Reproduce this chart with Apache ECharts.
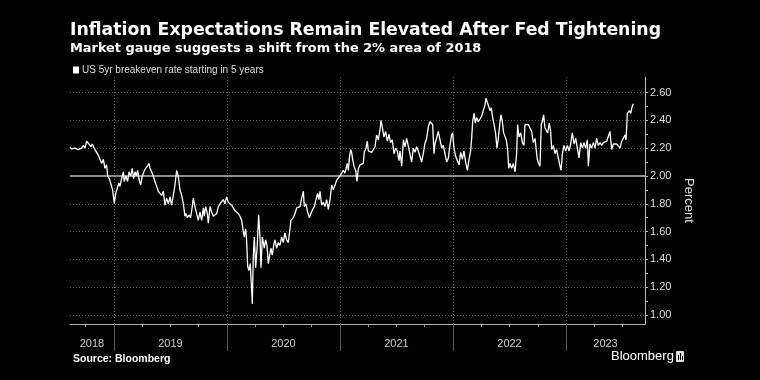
<!DOCTYPE html>
<html>
<head>
<meta charset="utf-8">
<script src="https://cdn.jsdelivr.net/npm/echarts@6/dist/echarts.min.js"></script>
<style>
html,body{margin:0;padding:0;background:#000;}
#chart{width:760px;height:380px;}
</style>
</head>
<body>
<div id="chart"></div>
<script>
// Decimal-year dates
const dates = [
2018.611,2018.625,2018.640,2018.655,2018.670,2018.684,2018.699,2018.714,2018.729,2018.743,
2018.758,2018.767,2018.779,2018.796,2018.808,2018.826,2018.838,2018.850,2018.861,2018.876,
2018.891,2018.906,2018.920,2018.935,2018.944,2018.959,2018.973,2018.988,2019.003,2019.015,
2019.029,2019.044,2019.053,2019.068,2019.083,2019.091,2019.106,2019.121,2019.133,2019.148,
2019.162,2019.174,2019.186,2019.198,2019.209,2019.221,2019.236,2019.251,2019.265,2019.280,
2019.295,2019.310,2019.319,2019.333,2019.348,2019.363,2019.378,2019.392,2019.407,2019.422,
2019.437,2019.451,2019.466,2019.481,2019.496,2019.510,2019.525,2019.540,2019.555,2019.569,
2019.584,2019.599,2019.614,2019.628,2019.637,2019.649,2019.664,2019.678,2019.693,2019.702,
2019.717,2019.732,2019.746,2019.761,2019.776,2019.791,2019.799,2019.811,2019.826,2019.835,
2019.850,2019.864,2019.879,2019.894,2019.909,2019.923,2019.938,2019.953,2019.968,2019.982,
2019.997,2020.012,2020.027,2020.041,2020.056,2020.071,2020.086,2020.100,2020.115,2020.130,
2020.145,2020.153,2020.165,2020.174,2020.183,2020.195,2020.206,2020.215,2020.224,2020.233,
2020.242,2020.254,2020.268,2020.280,2020.292,2020.301,2020.313,2020.322,2020.330,2020.342,
2020.354,2020.366,2020.378,2020.389,2020.401,2020.413,2020.425,2020.439,2020.454,2020.469,
2020.484,2020.498,2020.513,2020.528,2020.543,2020.558,2020.566,2020.587,2020.602,2020.617,
2020.631,2020.646,2020.661,2020.676,2020.684,2020.699,2020.714,2020.729,2020.743,2020.758,
2020.773,2020.788,2020.802,2020.814,2020.823,2020.838,2020.853,2020.867,2020.882,2020.897,
2020.912,2020.926,2020.941,2020.956,2020.971,2020.985,2021.000,2021.015,2021.029,2021.044,
2021.053,2021.065,2021.074,2021.083,2021.094,2021.103,2021.112,2021.124,2021.139,2021.150,
2021.162,2021.177,2021.192,2021.206,2021.215,2021.230,2021.242,2021.251,2021.265,2021.280,
2021.295,2021.310,2021.324,2021.339,2021.354,2021.363,2021.375,2021.389,2021.404,2021.419,
2021.434,2021.448,2021.463,2021.478,2021.493,2021.507,2021.522,2021.531,2021.546,2021.561,
2021.575,2021.590,2021.605,2021.619,2021.634,2021.649,2021.664,2021.678,2021.693,2021.708,
2021.723,2021.737,2021.752,2021.767,2021.782,2021.796,2021.811,2021.820,2021.832,2021.841,
2021.855,2021.870,2021.885,2021.900,2021.914,2021.929,2021.944,2021.959,2021.973,2021.988,
2021.997,2022.009,2022.024,2022.038,2022.053,2022.068,2022.083,2022.097,2022.112,2022.127,
2022.142,2022.156,2022.165,2022.174,2022.186,2022.198,2022.209,2022.224,2022.239,2022.254,
2022.269,2022.283,2022.292,2022.304,2022.316,2022.327,2022.339,2022.351,2022.366,2022.378,
2022.389,2022.401,2022.416,2022.425,2022.437,2022.448,2022.460,2022.472,2022.484,2022.493,
2022.504,2022.519,2022.534,2022.549,2022.563,2022.572,2022.584,2022.599,2022.614,2022.628,
2022.637,2022.652,2022.667,2022.681,2022.696,2022.711,2022.726,2022.735,2022.746,2022.758,
2022.770,2022.781,2022.790,2022.802,2022.814,2022.829,2022.838,2022.852,2022.864,2022.873,
2022.888,2022.903,2022.917,2022.932,2022.947,2022.956,2022.968,2022.982,2022.997,2023.012,
2023.027,2023.041,2023.056,2023.071,2023.086,2023.100,2023.115,2023.130,2023.145,2023.159,
2023.174,2023.189,2023.198,2023.212,2023.227,2023.242,2023.257,2023.271,2023.286,2023.301,
2023.316,2023.330,2023.345,2023.360,2023.375,2023.389,2023.404,2023.419,2023.434,2023.448,
2023.463,2023.478,2023.493,2023.507,2023.522,2023.531,2023.543,2023.552,2023.561,2023.573,
2023.582,2023.591,2023.597
];

// US 5yr breakeven rate starting in 5 years (percent)
const values = [
2.21,2.195,2.19,2.20,2.19,2.19,2.19,2.20,2.22,2.20,
2.25,2.26,2.23,2.21,2.23,2.20,2.18,2.19,2.15,2.14,
2.09,2.12,2.055,2.08,2.00,1.98,1.97,1.90,1.80,1.875,
1.91,1.95,1.925,1.98,2.03,1.96,2.00,1.96,2.03,2.00,
2.055,1.98,2.03,2.00,2.04,1.98,1.935,2.00,2.03,2.055,
2.07,2.09,2.055,2.03,2.00,1.96,1.925,1.89,1.90,1.86,
1.89,1.79,1.84,1.80,1.85,1.79,1.86,1.935,2.04,2.00,
1.90,1.86,1.80,1.71,1.73,1.70,1.72,1.70,1.78,1.84,
1.78,1.79,1.68,1.74,1.68,1.77,1.71,1.78,1.73,1.66,
1.78,1.74,1.71,1.70,1.73,1.78,1.80,1.81,1.83,1.80,
1.85,1.81,1.81,1.79,1.80,1.75,1.76,1.73,1.71,1.68,
1.60,1.56,1.62,1.54,1.35,1.32,1.37,1.23,1.08,1.42,
1.56,1.34,1.50,1.72,1.56,1.34,1.56,1.52,1.48,1.54,
1.50,1.37,1.43,1.48,1.43,1.50,1.54,1.48,1.52,1.50,
1.56,1.52,1.59,1.54,1.52,1.52,1.68,1.70,1.73,1.77,
1.76,1.78,1.84,1.89,1.78,1.80,1.74,1.70,1.70,1.76,
1.78,1.83,1.875,1.83,1.89,1.79,1.81,1.78,1.83,1.76,
1.83,1.935,1.90,1.935,1.97,1.96,2.00,2.005,2.04,2.02,
2.05,2.09,2.04,2.13,2.19,2.17,2.12,2.07,2.04,1.96,
2.05,2.08,2.07,2.09,2.17,2.20,2.25,2.18,2.19,2.17,
2.18,2.21,2.295,2.26,2.33,2.40,2.35,2.28,2.32,2.25,
2.30,2.24,2.26,2.16,2.20,2.18,2.11,2.18,2.07,2.26,
2.21,2.27,2.28,2.16,2.10,2.20,2.17,2.21,2.18,2.19,
2.10,2.16,2.235,2.27,2.355,2.39,2.40,2.37,2.16,2.235,
2.27,2.32,2.26,2.20,2.22,2.16,2.10,2.13,2.22,2.295,
2.31,2.20,2.14,2.13,2.08,2.17,2.12,2.18,2.10,2.04,
2.12,2.18,2.27,2.39,2.45,2.38,2.42,2.39,2.40,2.43,
2.475,2.51,2.56,2.55,2.50,2.47,2.49,2.42,2.36,2.30,
2.20,2.27,2.39,2.44,2.39,2.31,2.32,2.26,2.18,2.055,
2.09,2.055,2.09,2.03,2.16,2.37,2.28,2.31,2.24,2.22,
2.37,2.38,2.37,2.345,2.32,2.24,2.27,2.20,2.12,2.09,
2.07,2.37,2.39,2.44,2.345,2.345,2.31,2.38,2.32,2.19,
2.22,2.16,2.19,2.13,2.07,2.04,2.16,2.22,2.18,2.22,
2.18,2.23,2.31,2.23,2.27,2.20,2.13,2.24,2.20,2.24,
2.20,2.26,2.07,2.23,2.20,2.24,2.20,2.27,2.22,2.24,
2.22,2.24,2.23,2.25,2.26,2.32,2.19,2.23,2.24,2.23,
2.24,2.20,2.25,2.27,2.295,2.26,2.45,2.44,2.47,2.45,
2.49,2.51,2.52
];

const seriesName = 'US 5yr breakeven rate starting in 5 years';
const yearLabels = ['2018','2019','2020','2021','2022','2023'];
const yearBoundaries = [2019, 2020, 2021, 2022, 2023];
const quarterTicks = [2018.75,2019.25,2019.5,2019.75,2020.25,2020.5,2020.75,2021.25,2021.5,2021.75,2022.25,2022.5,2022.75,2023.25,2023.5];
const yLabelValues = [1.0,1.2,1.4,1.6,1.8,2.0,2.2,2.4,2.6];
const yTickValues = [1.0,1.1,1.2,1.3,1.4,1.5,1.6,1.7,1.8,1.9,2.0,2.1,2.2,2.3,2.4,2.5,2.6];
const referenceLevel = 2.0;

const xMin = 2018.611, xMax = 2023.699;
const yMin = 0.935, yMax = 2.712;

const yearLabelPos = yearLabels.map(y => {
  const s = Math.max(+y, xMin), e = Math.min(+y + 1, xMax);
  return (s + e) / 2;
});

const data = dates.map((d, i) => [d, values[i]]);

const dottedGrid = { color: '#5a5a5a', type: [1, 2], width: 1 };
const markData = [];
yLabelValues.forEach(v => {
  if (v !== referenceLevel) markData.push({ yAxis: v, lineStyle: dottedGrid });
});
yearBoundaries.forEach(v => markData.push({ xAxis: v, lineStyle: dottedGrid }));
markData.push({ yAxis: referenceLevel, lineStyle: { color: '#8c8c8c', type: 'solid', width: 2 } });

const chart = echarts.init(document.getElementById('chart'), null, { renderer: 'canvas' });
chart.setOption({
  backgroundColor: '#000',
  animation: false,
  title: {
    text: 'Inflation Expectations Remain Elevated After Fed Tightening',
    subtext: 'Market gauge suggests a shift from the 2% area of 2018',
    left: 65, top: 17, itemGap: 3,
    textStyle: { color: '#fff', fontSize: 17.3, fontWeight: 'bold', fontFamily: 'DejaVu Sans' },
    subtextStyle: { color: '#fff', fontSize: 12.9, fontWeight: 'bold', fontFamily: 'DejaVu Sans' }
  },
  legend: {
    data: [seriesName],
    left: 73, top: 65, padding: 0,
    icon: 'rect', itemWidth: 6, itemHeight: 7, itemGap: 4,
    textStyle: { color: '#ddd', fontSize: 10, fontFamily: '"Liberation Sans Narrow", "Liberation Sans", sans-serif', padding: [0,0,0,-2] }
  },
  grid: { left: 70, right: 115, top: 77, bottom: 56 },
  xAxis: [
    {
      type: 'value', min: xMin, max: xMax,
      axisLine: { show: true, lineStyle: { color: '#aaa', width: 1 } },
      axisTick: { show: true, customValues: quarterTicks, length: 3, lineStyle: { color: '#aaa' } },
      axisLabel: { show: false },
      splitLine: { show: false }
    },
    {
      type: 'value', min: xMin, max: xMax, position: 'bottom',
      axisLine: { show: false },
      axisTick: { show: true, customValues: yearBoundaries, length: 27, lineStyle: { color: '#555' } },
      axisLabel: {
        show: true, customValues: yearLabelPos, margin: 14,
        color: '#ccc', fontSize: 11, fontFamily: 'Liberation Sans',
        formatter: v => String(Math.floor(v))
      },
      splitLine: { show: false }
    }
  ],
  yAxis: {
    type: 'value', position: 'right', min: yMin, max: yMax,
    name: 'Percent', nameLocation: 'middle', nameRotate: -90, nameGap: 30,
    nameTextStyle: { color: '#ddd', fontSize: 13, fontFamily: 'Liberation Sans' },
    axisLine: { show: true, lineStyle: { color: '#bbb', width: 1 } },
    axisTick: { show: true, customValues: yTickValues, length: 3, lineStyle: { color: '#bbb' } },
    axisLabel: {
      customValues: yLabelValues, margin: 5,
      color: '#ddd', fontSize: 11, fontFamily: 'Liberation Sans',
      formatter: v => v.toFixed(2)
    },
    splitLine: { show: false }
  },
  series: [{
    name: seriesName,
    type: 'line',
    data: data,
    showSymbol: false,
    symbol: 'none',
    lineStyle: { color: '#fff', width: 1.3 },
    itemStyle: { color: '#fff' },
    z: 3,
    markLine: {
      silent: true, symbol: 'none', label: { show: false },
      animation: false, z: 1,
      data: markData
    }
  }],
  graphic: [
    { type: 'text', left: 73, top: 354, style: { text: 'Source: Bloomberg', fill: '#fff', font: 'bold 10.5px "Liberation Sans"' } },
    { type: 'text', left: 611, top: 350, style: { text: 'Bloomberg', fill: '#fff', font: '13px "Liberation Sans"' } },
    { type: 'rect', left: 676, top: 351, shape: { width: 8, height: 11, r: 1 }, style: { fill: '#ddd' } },
    { type: 'rect', left: 678, top: 355, shape: { width: 1, height: 5 }, style: { fill: '#000' } },
    { type: 'rect', left: 680, top: 353, shape: { width: 1, height: 7 }, style: { fill: '#000' } },
    { type: 'rect', left: 682, top: 356, shape: { width: 1, height: 4 }, style: { fill: '#000' } }
  ]
});
</script>
</body>
</html>
